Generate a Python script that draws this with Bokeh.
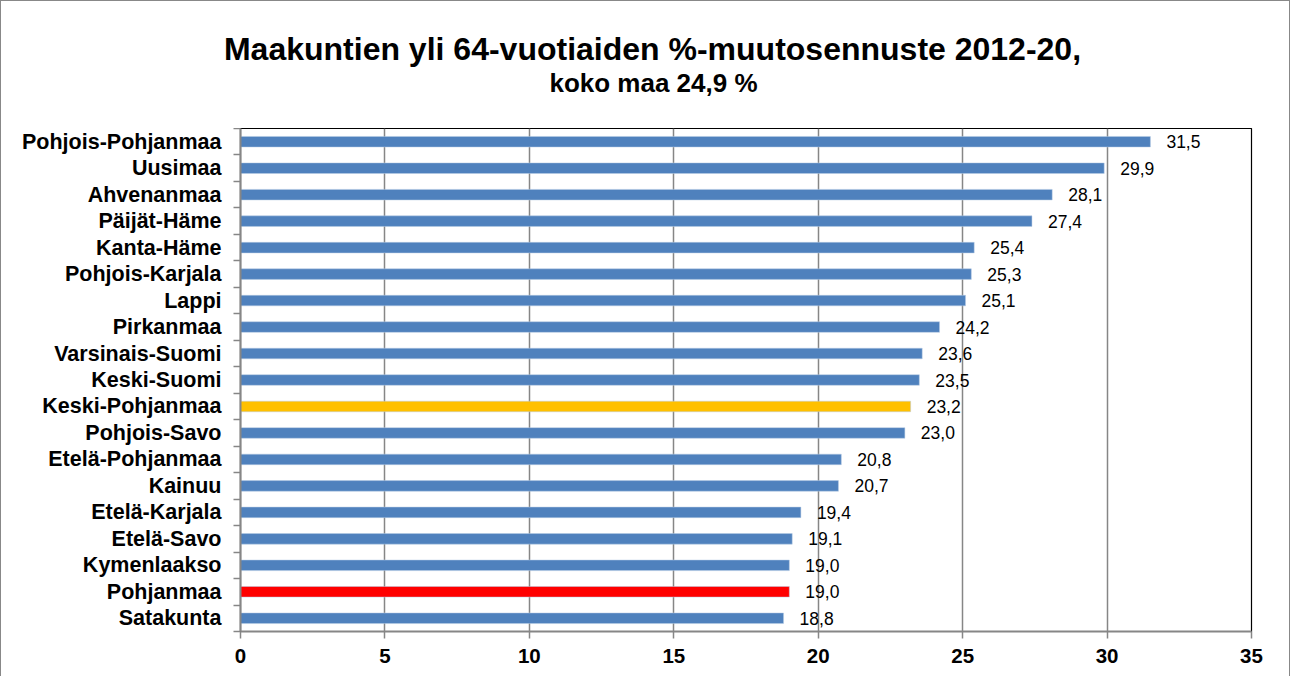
from bokeh.plotting import figure
from bokeh.models import ColumnDataSource, Range1d, FixedTicker
from bokeh.layouts import column
from bokeh.core.properties import value
from bokeh.embed import file_html
from bokeh.resources import INLINE

regions = ["Pohjois-Pohjanmaa", "Uusimaa", "Ahvenanmaa", "Päijät-Häme", "Kanta-Häme",
           "Pohjois-Karjala", "Lappi", "Pirkanmaa", "Varsinais-Suomi", "Keski-Suomi",
           "Keski-Pohjanmaa", "Pohjois-Savo", "Etelä-Pohjanmaa", "Kainuu", "Etelä-Karjala",
           "Etelä-Savo", "Kymenlaakso", "Pohjanmaa", "Satakunta"]
values = [31.5, 29.9, 28.1, 27.4, 25.4, 25.3, 25.1, 24.2, 23.6, 23.5,
          23.2, 23.0, 20.8, 20.7, 19.4, 19.1, 19.0, 19.0, 18.8]
highlight = {"Keski-Pohjanmaa": "#FFC000", "Pohjanmaa": "#FF0000"}
x_ticks = [0, 5, 10, 15, 20, 25, 30, 35]
title_main = "Maakuntien yli 64-vuotiaiden %-muutosennuste 2012-20,"
title_sub = "koko maa 24,9 %"

n = len(regions)
ys = list(range(n))
colors = [highlight.get(r, "#4F81BD") for r in regions]
labels = [f"{v:.1f}".replace(".", ",") for v in values]
src = ColumnDataSource(dict(y=ys, v=values, c=colors, lab=labels))

FONT = "Liberation Sans"
GRAY = "#868686"
W = 1290
TH = 128
BORDER = "1px solid #888888"

# ---- title strip ----
t = figure(width=W, height=TH, output_backend="svg", toolbar_location=None,
           x_range=Range1d(0, W), y_range=Range1d(TH, 0),
           x_axis_type=None, y_axis_type=None, min_border=0, title=None)
t.frame_align = False
t.outline_line_color = None
t.xgrid.visible = False
t.ygrid.visible = False
t.styles = {"border-left": BORDER, "border-top": BORDER, "border-right": BORDER}
t.text(x=[W / 2 + 6], y=[47], text=[title_main], text_font=value(FONT),
       text_font_size="32px", text_font_style="bold", text_color="#000000",
       text_align="center", text_baseline="middle")
t.text(x=[W / 2 + 7], y=[81], text=[title_sub], text_font=value(FONT),
       text_font_size="26px", text_font_style="bold", text_color="#000000",
       text_align="center", text_baseline="middle")

# ---- chart ----
p = figure(width=W, height=677 - TH - 1, output_backend="svg", toolbar_location=None,
           x_range=Range1d(0, 35), y_range=Range1d(n - 0.5, -0.5),
           min_border_left=239, min_border_right=40, min_border_bottom=45, min_border_top=0,
           title=None)
p.frame_align = False
p.styles = {"border-left": BORDER, "border-right": BORDER}

p.hbar(y="y", right="v", left=0, height=0.4, fill_color="c", line_color="#B9CDE5",
       line_width=0.5, source=src)
p.text(x="v", y="y", text="lab", source=src, x_offset=16, text_align="left",
       text_baseline="middle", text_font_size="17.5px", text_color="#000000",
       text_font=value(FONT))

p.outline_line_color = "#000000"
p.outline_line_width = 1.2

# x axis
p.xaxis.ticker = FixedTicker(ticks=x_ticks)
p.xaxis.axis_line_color = GRAY
p.xaxis.axis_line_width = 2
p.xaxis.major_tick_line_color = GRAY
p.xaxis.major_tick_line_width = 1.5
p.xaxis.major_tick_out = 7
p.xaxis.major_tick_in = 0
p.xaxis.minor_tick_line_color = None
p.xaxis.major_label_text_font = FONT
p.xaxis.major_label_text_font_size = "20.5px"
p.xaxis.major_label_text_font_style = "bold"
p.xaxis.major_label_text_color = "#000000"
p.xaxis.major_label_standoff = 10

# y axis
p.yaxis.ticker = FixedTicker(ticks=ys, minor_ticks=[i - 0.5 for i in range(n + 1)])
p.yaxis.major_label_overrides = {i: r for i, r in enumerate(regions)}
p.yaxis.axis_line_color = GRAY
p.yaxis.axis_line_width = 2
p.yaxis.major_tick_line_color = None
p.yaxis.major_tick_out = 0
p.yaxis.major_tick_in = 0
p.yaxis.minor_tick_line_color = GRAY
p.yaxis.minor_tick_line_width = 1.5
p.yaxis.minor_tick_out = 7
p.yaxis.minor_tick_in = 0
p.yaxis.major_label_text_font = FONT
p.yaxis.major_label_text_font_size = "21.5px"
p.yaxis.major_label_text_font_style = "bold"
p.yaxis.major_label_text_color = "#000000"
p.yaxis.major_label_standoff = 12

p.xgrid.ticker = FixedTicker(ticks=x_ticks)
p.xgrid.grid_line_color = GRAY
p.xgrid.grid_line_width = 1.5
p.ygrid.grid_line_color = None

layout = column(t, p, spacing=0)
open("out.html", "w").write(file_html(layout, INLINE))
